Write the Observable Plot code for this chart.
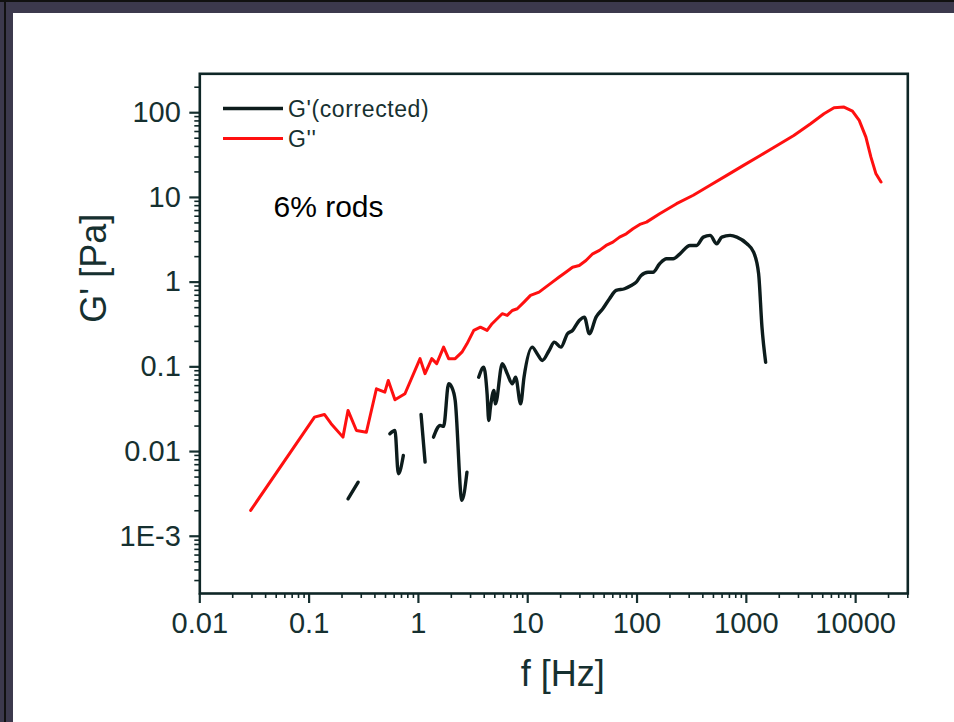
<!DOCTYPE html>
<html><head><meta charset="utf-8">
<script src="https://cdn.jsdelivr.net/npm/d3@7"></script>
<script src="https://cdn.jsdelivr.net/npm/@observablehq/plot@0.6"></script>
<style>
html,body{margin:0;padding:0;background:#fff;}
#wrap{position:relative;width:954px;height:722px;overflow:hidden;background:#fff;font-family:"Liberation Sans",Arial,sans-serif;}
#wrap > svg.plot, #wrap > svg{position:absolute;left:0;top:0;}
.bar{position:absolute;background:#3c394d;z-index:3;}
.line{position:absolute;background:#111;z-index:4;}
#legend{position:absolute;left:0;top:0;z-index:5;}
</style></head><body>
<div id="wrap"></div>
<script>
// G'' (red)
const redF = [0.0292,0.112,0.138,0.159,0.204,0.227,0.271,0.334,0.413,0.493,0.530,0.610,0.753,1.035,1.15,1.325,1.47,1.70,1.89,2.17,2.50,2.78,3.21,3.69,4.25,4.72,5.25,5.84,6.49,7.22,8.02,9.24,10.6,12.7,14.6,16.8,19.4,22.3,25.7,29.6,34.1,39.3,45.3,52.1,60.1,69.2,79.7,91.8,106,122,161,230,327,466,662,942,1342,1910,2717,3870,5130,6340,7830,9350,10780,12410,13800,15340,17060];
const redG = [0.00202,0.0255,0.0274,0.0213,0.0148,0.0306,0.0177,0.0169,0.0551,0.0502,0.069,0.0409,0.0481,0.125,0.083,0.125,0.109,0.171,0.125,0.125,0.149,0.187,0.269,0.294,0.269,0.323,0.370,0.424,0.405,0.463,0.485,0.581,0.697,0.762,0.873,1.0,1.15,1.31,1.50,1.57,1.80,2.16,2.37,2.71,2.97,3.40,3.72,4.27,4.80,5.11,6.43,8.43,10.6,13.9,18.2,23.9,31.3,41.1,53.9,74.1,97.3,114.6,116.5,104.4,81.1,51.5,29.9,19.0,15.2];
// G' corrected (black), broken into segments
const blackF = [0.227,0.281, 0.548,0.610,0.655,0.728, 1.057,1.151, 1.374,1.58,1.70,1.89,2.02,2.17,2.50,2.78, 3.56,3.96,4.25,4.40,4.56,4.90,5.07,5.85,6.50,7.23,7.75,8.61,9.25,11.0,12.2,13.6,15.7,17.5,20.1,23.1,25.7,29.6,33.0,36.6,42.2,48.6,56.0,64.4,76.9,88.5,98.4,109,126,140,161,186,214,247,305,351,404,466,536,596,711,819,1012,1165,1295,1390,1502];
const blackG = [0.00277,0.00435, 0.0162,0.0177,0.00547,0.0090, 0.0274,0.0075, 0.0148,0.0203,0.0198,0.0631,0.0575,0.0401,0.00265,0.00571, 0.0755,0.099,0.0481,0.0233,0.0334,0.0526,0.0366,0.109,0.083,0.0631,0.0755,0.0366,0.0755,0.171,0.143,0.119,0.156,0.196,0.171,0.246,0.269,0.353,0.386,0.246,0.386,0.485,0.637,0.798,0.836,0.914,1.0,1.20,1.31,1.31,1.65,1.89,1.89,2.16,2.71,2.71,3.40,3.56,2.84,3.40,3.56,3.40,2.84,2.26,1.26,0.294,0.113];
const blackSeg = [1,1, 2,2,2,2, 3,3, 4,4,4,4,4,4,4,4,
  5,5,5,5,5,5,5,5,5,5,5,5,5,5,5,5,5,5,5,5,5,5,5,5,5,5,5,5,5,5,5,5,5,5,5,5,5,5,5,5,5,5,5,5,5,5,5,5,5,5,5];

const seriesNames = ["G'(corrected)", "G''"];
const seriesColors = ["#0d1c1c", "#ff1010"];
const xTicks = [0.01,0.1,1,10,100,1000,10000];
const xTickLabels = ["0.01","0.1","1","10","100","1000","10000"];
const yTicks = [0.001,0.01,0.1,1,10,100];
const yTickLabels = ["1E-3","0.01","0.1","1","10","100"];
const xDomain = [0.01, 30000];
const yDomain = [2.11e-4, 288];
const xTitle = "f [Hz]";
const yTitle = "G' [Pa]";
const note = "6% rods";

const redData = redF.map((f, i) => ({f, g: redG[i]}));
const blackData = blackF.map((f, i) => ({f, g: blackG[i], seg: blackSeg[i]}));

function minorTicks(domain) {
  const out = [];
  for (let e = Math.floor(Math.log10(domain[0])); e <= Math.ceil(Math.log10(domain[1])); e++) {
    for (let k = 2; k <= 9; k++) {
      const v = k * Math.pow(10, e);
      if (v >= domain[0] && v <= domain[1]) out.push(v);
    }
  }
  return out;
}

const axisColor = "#0e2626";
const W = 954, H = 722;
const mL = 199.3, mT = 73.3, mR = W - 907.3, mB = H - 593;

const chart = Plot.plot({
  width: W, height: H,
  marginLeft: mL, marginTop: mT, marginRight: mR, marginBottom: mB,
  style: {fontSize: "29px", fontFamily: "'Liberation Sans', Arial, sans-serif", background: "transparent", overflow: "visible"},
  x: {type: "log", domain: xDomain},
  y: {type: "log", domain: yDomain},
  marks: [
    Plot.axisX(minorTicks(xDomain), {tickSize: 5, strokeWidth: 1.6, tickFormat: () => "", color: axisColor, label: null}),
    Plot.axisX(xTicks, {tickSize: 10, tickPadding: 9, strokeWidth: 2.2, tickFormat: d => xTickLabels[xTicks.indexOf(d)], color: "#163030", label: null}),
    Plot.axisY(minorTicks(yDomain), {tickSize: 5, strokeWidth: 1.6, tickFormat: () => "", color: axisColor, label: null}),
    Plot.axisY(yTicks, {tickSize: 10, tickPadding: 9, strokeWidth: 2.2, tickFormat: d => yTickLabels[yTicks.indexOf(d)], color: "#163030", label: null}),
    Plot.line(redData, {x: "f", y: "g", stroke: seriesColors[1], strokeWidth: 3}),
    Plot.line(blackData, {x: "f", y: "g", z: "seg", stroke: seriesColors[0], strokeWidth: 3.4, curve: "monotone-x"}),
    Plot.frame({stroke: axisColor, strokeWidth: 2.6}),
    Plot.text([xTitle], {text: d => d, frameAnchor: "bottom", dx: 9, dy: 92, lineAnchor: "bottom", fontSize: 36, fill: "#163030"}),
    Plot.text([yTitle], {text: d => d, frameAnchor: "left", rotate: -90, dx: -94, dy: -11, lineAnchor: "bottom", fontSize: 36, fill: "#163030"}),
    Plot.text([note], {text: d => d, frameAnchor: "top-left", textAnchor: "start", dx: 73.7, dy: 143.5, lineAnchor: "bottom", fontSize: 30, fill: "#000"})
  ]
});

const wrap = document.getElementById("wrap");
wrap.appendChild(chart);

// legend (inside the frame, top-left)
const ns = "http://www.w3.org/2000/svg";
const leg = document.createElementNS(ns, "svg");
leg.setAttribute("id", "legend");
leg.setAttribute("width", W); leg.setAttribute("height", 200);
const rows = [108.5, 138.5];
seriesNames.forEach((name, i) => {
  const l = document.createElementNS(ns, "line");
  l.setAttribute("x1", 223); l.setAttribute("x2", 283);
  l.setAttribute("y1", rows[i]); l.setAttribute("y2", rows[i]);
  l.setAttribute("stroke", seriesColors[i]);
  l.setAttribute("stroke-width", i === 0 ? 3.4 : 3);
  leg.appendChild(l);
  const t = document.createElementNS(ns, "text");
  t.setAttribute("x", 288); t.setAttribute("y", rows[i] + 8);
  t.setAttribute("font-size", 23);
  t.setAttribute("letter-spacing", "0.6");
  t.setAttribute("font-family", "'Liberation Sans', Arial, sans-serif");
  t.setAttribute("fill", "#163030");
  t.textContent = name;
  leg.appendChild(t);
});
wrap.appendChild(leg);

// outer dark frame of the picture
function bar(cls, l, t, w, h) {
  const d = document.createElement("div");
  d.className = cls;
  d.style.left = l + "px"; d.style.top = t + "px";
  d.style.width = w + "px"; d.style.height = h + "px";
  wrap.appendChild(d);
}
bar("bar", 0, 0, W, 13);
bar("bar", 0, 0, 13, H);
bar("line", 0, 0, W, 2);
bar("line", 4, 0, 2, H);
</script>
</body></html>
